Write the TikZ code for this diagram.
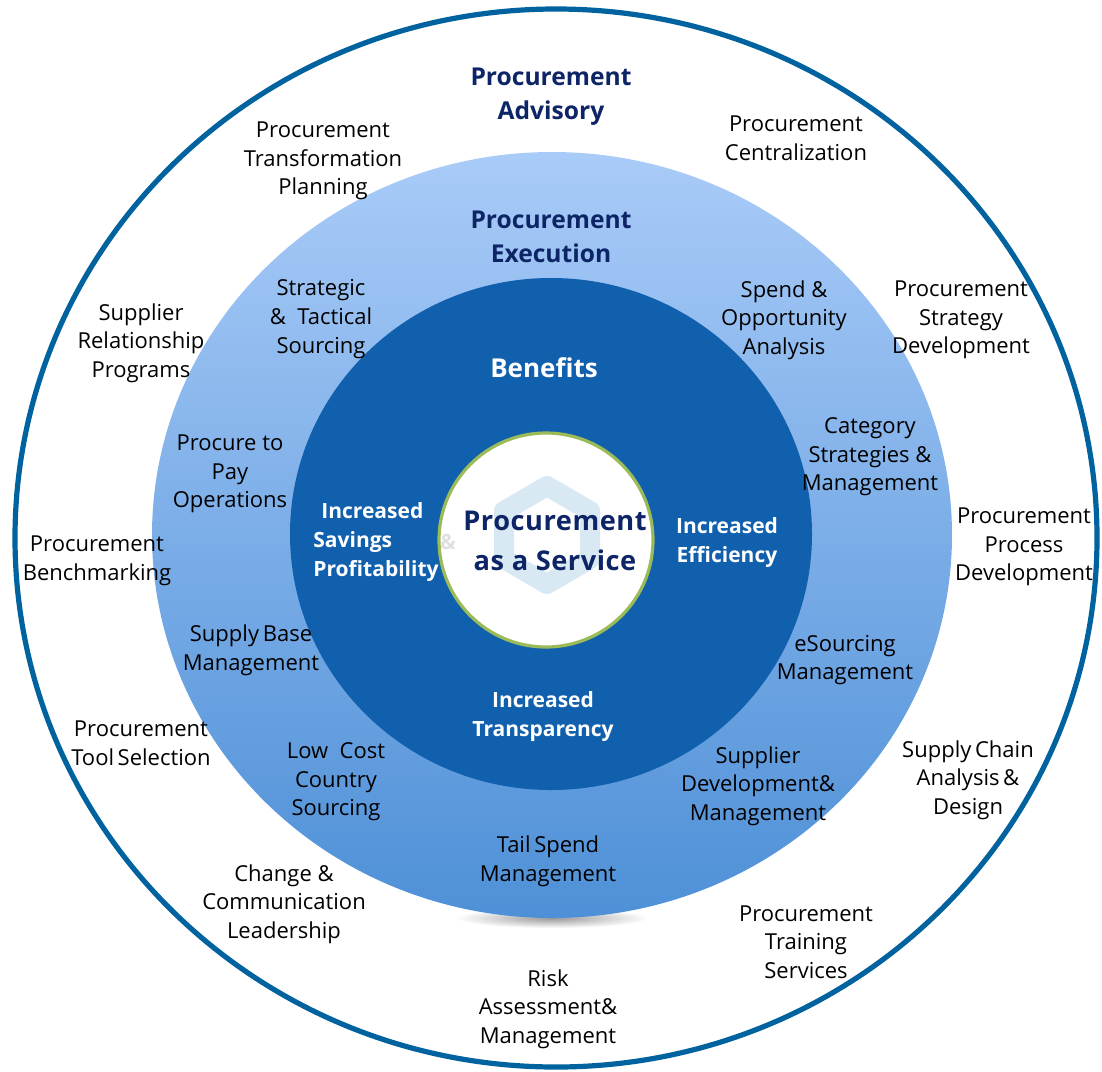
\documentclass[tikz,border=0pt]{standalone}
\usepackage{fontspec}
\setmainfont{Open Sans}
\definecolor{ringblue}{HTML}{00629E}
\definecolor{darkblue}{HTML}{1160AE}
\definecolor{navy}{HTML}{0D2566}
\definecolor{lightblue}{HTML}{A9CBF8}
\definecolor{midblue}{HTML}{4E90D7}
\definecolor{leafgreen}{HTML}{9BBB59}
\definecolor{hexblue}{HTML}{D9E9F4}
\begin{document}
\begin{tikzpicture}[x=0.5pt, y=-0.5pt,
  lbl/.style={align=center, font=\fontsize{11}{14.3}\selectfont, text=black, inner sep=0pt, yshift=-2pt},
  head/.style={align=center, font=\fontsize{12.3}{17}\selectfont\bfseries, text=navy, inner sep=0pt, yshift=-2pt},
  benefit/.style={align=center, font=\fontsize{10.5}{14.5}\selectfont\bfseries, text=white, inner sep=0pt, yshift=-1.2pt}]
  \useasboundingbox (0,0) rectangle (1102,1071);

  % rings
  \coordinate (O) at (552,535);
  \draw[ringblue, line width=2.6pt] (556,538) ellipse [x radius=270.5pt, y radius=264.5pt];
  \shade[inner color=black!40, outer color=white] (552,918) ellipse [x radius=48pt, y radius=5pt];
  \shade[top color=lightblue, bottom color=midblue] (O) ellipse [x radius=200pt, y radius=191.5pt];
  \fill[darkblue] (551,534) ellipse [x radius=130.5pt, y radius=128pt];
  \fill[white] (546,540) circle (53.5pt);
  % logo
  \draw[hexblue, line width=10pt, line join=round]
    (547,486) -- (590,511) -- (590,559) -- (547,584) -- (504,559) -- (504,511) -- cycle;
  \draw[leafgreen, line width=1.6pt] (546,540) circle (53.5pt);

  % centre
  \node[align=center, inner sep=0pt, text=navy,
    font=\fontsize{13.6}{20}\selectfont\bfseries\addfontfeature{LetterSpace=2}] (core) at (555,541)
    {Procurement\\as a Service};

  % benefits
  \node[benefit, font=\fontsize{13}{16}\selectfont\bfseries] (benefits) at (544,365) {Benefits};
  \node[benefit, align=left, anchor=west] (savings) at (313,540) {\hspace{4pt}Increased\\Savings\\Profitability};
  \node[benefit, text=black!12] (amp) at (448,540) {\&};
  \node[benefit] (efficiency) at (727,540) {Increased\\Efficiency};
  \node[benefit] (transparency) at (543,714) {Increased\\Transparency};

  % execution
  \node[head] (execution) at (551,233) {Procurement\\Execution};
  \node[lbl] (sourcing) at (321,315) {Strategic\\\&\ \ Tactical\\Sourcing};
  \node[lbl] (spend) at (784,316) {Spend \&\\Opportunity\\Analysis};
  \node[lbl] (p2p) at (230,470) {Procure to\\Pay\\Operations};
  \node[lbl] (category) at (870,453) {Category\\Strategies \&\\Management};
  \node[lbl] (supplybase) at (251,646) {Supply\,Base\\Management};
  \node[lbl] (esourcing) at (845,656) {eSourcing\\Management};
  \node[lbl] (lowcost) at (336,778) {Low\ \ Cost\\Country\\Sourcing};
  \node[lbl] (supplierdev) at (758,782) {Supplier\\Development\&\\Management};
  \node[lbl] (tailspend) at (548,857) {Tail\,Spend\\Management};

  % advisory
  \node[head] (advisory) at (551,93) {Procurement\\Advisory};
  \node[lbl] (transformation) at (323,157) {Procurement\\Transformation\\Planning};
  \node[lbl] (centralization) at (796,134) {Procurement\\Centralization};
  \node[lbl] (relationship) at (141,339) {Supplier\\Relationship\\Programs};
  \node[lbl] (strategy) at (961,316) {Procurement\\Strategy\\Development};
  \node[lbl] (benchmarking) at (97,557) {Procurement\\Benchmarking};
  \node[lbl] (process) at (1024,543) {Procurement\\Process\\Development};
  \node[lbl] (toolselection) at (141,739) {Procurement\\Tool\,Selection};
  \node[lbl] (supplychain) at (968,776) {Supply\,Chain\\Analysis\,\&\\Design};
  \node[lbl] (change) at (284,900) {Change \&\\Communication\\Leadership};
  \node[lbl] (training) at (806,938) {Procurement\\Training\\Services};
  \node[lbl] (risk) at (548,1005) {Risk\\Assessment\&\\Management};
\end{tikzpicture}
\end{document}
